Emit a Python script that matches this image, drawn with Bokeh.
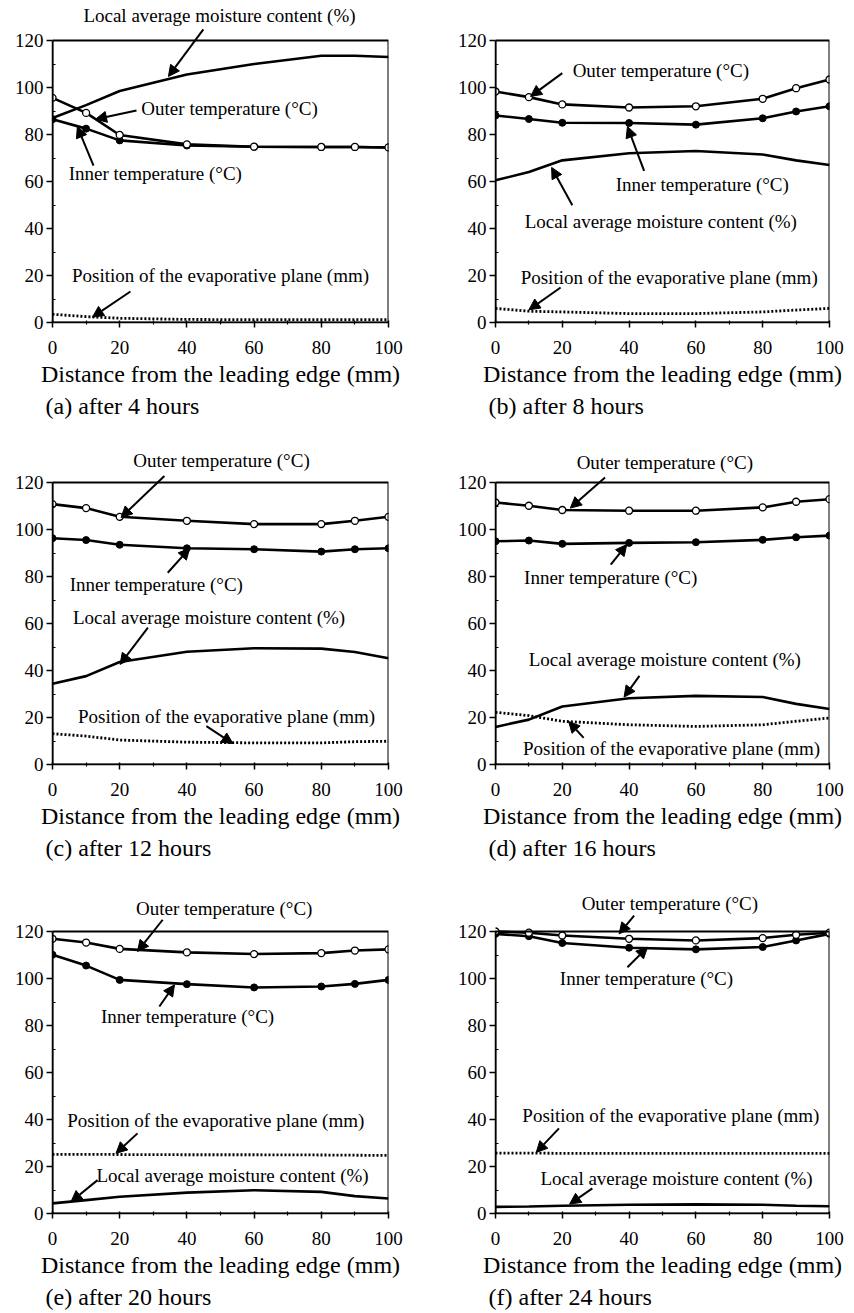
from bokeh.plotting import figure
from bokeh.layouts import column, row
from bokeh.models import Range1d, Label, Arrow, NormalHead, Title, FixedTicker, BoxAnnotation
from bokeh.embed import file_html
from bokeh.resources import INLINE

# ---------------- data ----------------
X_POS = [0, 10, 20, 40, 60, 80, 90, 100]          # distance from leading edge (mm)
X_TICKS = [0, 20, 40, 60, 80, 100]
X_MINOR = [10, 30, 50, 70, 90]
Y_TICKS = [0, 20, 40, 60, 80, 100, 120]
Y_MINOR = [10, 30, 50, 70, 90, 110]

CAPTIONS = ["(a)  after 4 hours", "(b)  after 8 hours", "(c)  after 12 hours",
            "(d)  after 16 hours", "(e)  after 20 hours", "(f)  after 24 hours"]

# outer temperature (deg C), open circles
OUTER_A = [95.6, 89.2, 79.8, 75.8, 74.8, 74.7, 74.7, 74.5]
OUTER_B = [98.3, 95.9, 92.8, 91.5, 92.0, 95.2, 99.7, 103.4]
OUTER_C = [110.8, 109.1, 105.4, 103.7, 102.3, 102.3, 103.7, 105.4]
OUTER_D = [111.5, 110.1, 108.3, 108.0, 108.0, 109.4, 111.8, 112.9]
OUTER_E = [116.9, 115.3, 112.6, 111.1, 110.4, 110.8, 111.9, 112.4]
OUTER_F = [120.0, 119.5, 118.3, 116.9, 116.2, 117.2, 118.6, 119.5]

# inner temperature (deg C), filled circles
INNER_A = [86.5, 82.5, 77.5, 75.3, 74.8, 74.7, 74.7, 74.5]
INNER_B = [88.1, 86.6, 85.0, 84.9, 84.2, 86.9, 89.8, 92.0]
INNER_C = [96.3, 95.5, 93.5, 92.0, 91.6, 90.6, 91.6, 92.0]
INNER_D = [95.0, 95.3, 93.9, 94.3, 94.6, 95.6, 96.7, 97.4]
INNER_E = [110.1, 105.5, 99.4, 97.6, 96.2, 96.6, 97.7, 99.4]
INNER_F = [119.0, 118.0, 115.1, 113.1, 112.4, 113.4, 116.2, 119.0]

# local average moisture content (%), solid line
MOIST_A = [87.0, 92.5, 98.5, 105.5, 110.0, 113.5, 113.5, 113.0]
MOIST_B = [60.5, 64.0, 69.0, 72.0, 73.0, 71.5, 69.0, 67.0]
MOIST_C = [34.4, 37.6, 43.6, 48.0, 49.5, 49.3, 47.9, 45.2]
MOIST_D = [16.0, 19.1, 24.7, 28.2, 29.2, 28.7, 25.8, 23.6]
MOIST_E = [4.3, 5.7, 7.1, 8.9, 9.9, 9.2, 7.4, 6.4]
MOIST_F = [2.8, 3.0, 3.3, 3.7, 3.9, 3.7, 3.3, 3.1]

# position of the evaporative plane (mm), dotted line
EVAP_A = [3.5, 2.5, 1.8, 1.3, 1.2, 1.2, 1.2, 1.2]
EVAP_B = [6.0, 4.8, 4.5, 3.8, 3.8, 4.5, 5.3, 6.0]
EVAP_C = [13.1, 12.1, 10.4, 9.5, 9.2, 9.2, 9.7, 9.9]
EVAP_D = [22.2, 20.8, 18.4, 16.9, 16.2, 16.9, 18.4, 19.8]
EVAP_E = [25.2, 25.2, 25.1, 25.0, 25.0, 24.9, 24.8, 24.7]
EVAP_F = [25.7, 25.7, 25.6, 25.6, 25.6, 25.6, 25.6, 25.6]

T_OUT = "Outer temperature (\u00b0C)"
T_IN = "Inner temperature (\u00b0C)"
T_MC = "Local average moisture content (%)"
T_EP = "Position of the evaporative plane (mm)"
X_LABEL = "Distance from the leading edge (mm)"

# annotation text positions (data units) and arrows (start -> end)
LABELS = [
    [(T_MC, 49.7, 130.6), (T_OUT, 52.7, 91.1), (T_IN, 30.6, 63.4), (T_EP, 50.0, 20.0)],
    [(T_OUT, 49.5, 107.1), (T_IN, 61.9, 58.9), (T_MC, 49.5, 42.8), (T_EP, 52.0, 19.1)],
    [(T_OUT, 50.3, 129.2), (T_IN, 30.9, 76.7), (T_MC, 46.6, 62.5), (T_EP, 51.8, 20.6)],
    [(T_OUT, 50.7, 128.5), (T_IN, 34.5, 79.5), (T_MC, 50.7, 44.8), (T_EP, 52.7, 6.6)],
    [(T_OUT, 51.1, 129.7), (T_IN, 40.2, 83.8), (T_EP, 48.6, 39.4), (T_MC, 53.6, 16.1)],
    [(T_OUT, 52.2, 131.8), (T_IN, 45.2, 100.1), (T_EP, 52.5, 41.6), (T_MC, 54.2, 14.9)],
]
ARROWS = [
    [(44.9, 124.7, 34.5, 104.7), (25.0, 90.2, 12.8, 86.5), (12.2, 66.8, 7.4, 83.4), (23.2, 13.2, 11.9, 2.3)],
    [(20.0, 106.1, 10.5, 96.2), (44.5, 64.5, 39.5, 83.4), (23.0, 49.9, 16.8, 66.0), (19.5, 14.9, 10.0, 5.4)],
    [(33.3, 122.8, 20.4, 105.1), (34.3, 81.6, 40.8, 92.0), (28.4, 58.2, 20.1, 42.6), (45.8, 16.3, 53.7, 8.9)],
    [(32.8, 122.1, 22.4, 109.1), (34.5, 85.1, 39.3, 93.6), (43.1, 37.7, 38.5, 28.7), (26.4, 11.3, 21.9, 18.3)],
    [(32.8, 125.0, 25.3, 111.5), (31.8, 88.1, 36.3, 97.3), (25.3, 34.1, 18.9, 25.6), (13.4, 14.2, 5.5, 5.0)],
    [(41.5, 126.8, 37.0, 119.0), (39.5, 104.8, 45.5, 113.3), (19.0, 36.2, 12.2, 26.0), (29.0, 10.7, 22.2, 4.0)],
]

OUTERS = [OUTER_A, OUTER_B, OUTER_C, OUTER_D, OUTER_E, OUTER_F]
INNERS = [INNER_A, INNER_B, INNER_C, INNER_D, INNER_E, INNER_F]
MOISTS = [MOIST_A, MOIST_B, MOIST_C, MOIST_D, MOIST_E, MOIST_F]
EVAPS = [EVAP_A, EVAP_B, EVAP_C, EVAP_D, EVAP_E, EVAP_F]

# ---------------- layout / style ----------------
FONT = "Liberation Serif"
BOX_H = 282                      # pixels for 0..120 on the y axis
PX_PER_UNIT = BOX_H / 120.0
ROW_PADS = [(40, 103), (57, 101), (66, 98)]     # px above y=120 (inside frame), px below frame
COL_SPEC = [(52, 336, 39), (68, 334, 24)]       # left border, frame width, right border


def make_panel(i):
    r, c = divmod(i, 2)
    pad_top, bb = ROW_PADS[r]
    bl, fw, br = COL_SPEC[c]
    y_top = 120 + pad_top / PX_PER_UNIT
    fh = BOX_H + pad_top
    p = figure(frame_width=fw, frame_height=fh, title=None,
               x_range=Range1d(0, 100), y_range=Range1d(0, y_top),
               output_backend="svg", toolbar_location=None,
               min_border_left=bl, min_border_right=br,
               min_border_top=0, min_border_bottom=bb)
    p.grid.visible = False
    p.outline_line_color = None
    p.background_fill_color = "white"
    p.border_fill_color = "white"
    p.add_layout(BoxAnnotation(left=0, right=100, bottom=0, top=120,
                               fill_alpha=0, fill_color=None,
                               line_color="black", line_alpha=1.0,
                               line_width=2))

    p.xaxis.ticker = FixedTicker(ticks=X_TICKS, minor_ticks=X_MINOR)
    p.yaxis.ticker = FixedTicker(ticks=Y_TICKS, minor_ticks=Y_MINOR)
    p.yaxis.bounds = (0, 120)
    for ax in (p.xaxis[0], p.yaxis[0]):
        ax.axis_line_color = "black"
        ax.axis_line_width = 1.5
        ax.major_tick_line_color = "black"
        ax.major_tick_line_width = 1.5
        ax.minor_tick_line_color = "black"
        ax.minor_tick_line_width = 1.2
        ax.major_label_text_font = FONT
        ax.major_label_text_font_size = "19px"
        ax.major_label_text_color = "black"
    p.xaxis.major_tick_out = 5
    p.xaxis.major_tick_in = 2
    p.xaxis.minor_tick_out = 2
    p.xaxis.minor_tick_in = 2
    p.xaxis.major_label_standoff = 13
    p.yaxis.major_tick_out = 6
    p.yaxis.major_tick_in = 0
    p.yaxis.minor_tick_out = 0
    p.yaxis.minor_tick_in = 3
    p.yaxis.major_label_standoff = 3

    p.xaxis.axis_label = X_LABEL
    p.xaxis.axis_label_text_font = FONT
    p.xaxis.axis_label_text_font_size = "24px"
    p.xaxis.axis_label_text_font_style = "normal"
    p.xaxis.axis_label_text_color = "black"
    p.xaxis.axis_label_standoff = 4

    p.add_layout(Title(text=CAPTIONS[i], align="left", offset=-7, standoff=2,
                       text_font=FONT, text_font_size="24px",
                       text_font_style="normal", text_color="black"), "below")

    # series
    p.line(X_POS, EVAPS[i], line_color="black", line_width=2.8, line_dash="2 2")
    p.line(X_POS, MOISTS[i], line_color="black", line_width=2.6)
    p.line(X_POS, INNERS[i], line_color="black", line_width=2.6)
    p.scatter(X_POS, INNERS[i], marker="circle", size=7, fill_color="black",
              line_color="black")
    p.line(X_POS, OUTERS[i], line_color="black", line_width=2.6)
    p.scatter(X_POS, OUTERS[i], marker="circle", size=7, fill_color="white",
              line_color="black", line_width=1.3)

    for (txt, lx, ly) in LABELS[i]:
        p.add_layout(Label(x=lx, y=ly, text=txt, text_align="center",
                           text_baseline="middle", text_font=FONT,
                           text_font_size="19px", text_color="black"))
    for (x0, y0, x1, y1) in ARROWS[i]:
        p.add_layout(Arrow(end=NormalHead(size=11, fill_color="black",
                                          line_color="black", line_width=1),
                           x_start=x0, y_start=y0, x_end=x1, y_end=y1,
                           line_color="black", line_width=2))
    return p


panels = [make_panel(i) for i in range(6)]
layout = column(row(panels[0], panels[1]), row(panels[2], panels[3]),
                row(panels[4], panels[5]))

open("out.html", "w").write(file_html(layout, INLINE))
